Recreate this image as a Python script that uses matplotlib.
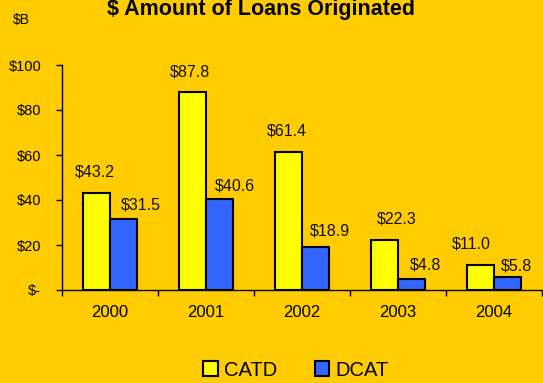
import matplotlib
matplotlib.use("Agg")
import matplotlib.pyplot as plt
from matplotlib.patches import Patch
import numpy as np

years = ["2000", "2001", "2002", "2003", "2004"]
catd = [43.2, 87.8, 61.4, 22.3, 11.0]
dcat = [31.5, 40.6, 18.9, 4.8, 5.8]
series_names = ["CATD", "DCAT"]
y_ticks = [0, 20, 40, 60, 80, 100]
y_tick_labels = ["$-", "$20", "$40", "$60", "$80", "$100"]

# hand-placed data-label offsets (pixels) relative to each bar's top centre
catd_label_offsets = [(-2, 21), (-3, 20), (-2, 21), (12, 21), (-9, 21)]
dcat_label_offsets = [(17, 14), (15, 13), (14, 16), (14, 14), (9, 11)]

BG = "#FFCC00"
YELLOW = "#FFFF00"
BLUE = "#3366FF"

plt.rcParams["font.family"] = ["Liberation Sans", "DejaVu Sans"]

fig = plt.figure(figsize=(5.43, 3.83), dpi=100, facecolor=BG)
ax = fig.add_axes([62 / 543, 1 - 290 / 383, 480 / 543, 225 / 383])
ax.set_facecolor(BG)

x = np.arange(len(years))
w = 0.28
b1 = ax.bar(x - w / 2, catd, w, color=YELLOW, edgecolor="black", linewidth=1.5, zorder=3)
b2 = ax.bar(x + w / 2, dcat, w, color=BLUE, edgecolor="black", linewidth=1.5, zorder=3)

for bars, vals, offs in ((b1, catd, catd_label_offsets), (b2, dcat, dcat_label_offsets)):
    for r, v, off in zip(bars, vals, offs):
        ax.annotate(f"${v:.1f}", (r.get_x() + r.get_width() / 2, v),
                    xytext=off, textcoords="offset pixels",
                    ha="center", va="center", fontsize=11.5, color="#111111")

ax.set_xlim(-0.5, len(years) - 0.5)
ax.set_ylim(0, 100)
ax.set_yticks(y_ticks)
ax.set_yticklabels(y_tick_labels, fontsize=10.5)
ax.tick_params(axis="y", direction="out", length=4, width=1, pad=11, colors="black")

ax.set_xticks(np.arange(-0.5, len(years)), minor=False)
ax.set_xticklabels([])
ax.set_xticks(x, minor=True)
ax.set_xticklabels(years, minor=True, fontsize=12)
ax.tick_params(axis="x", which="major", direction="out", length=4, width=1)
ax.tick_params(axis="x", which="minor", length=0, pad=11)

for s in ("top", "right"):
    ax.spines[s].set_visible(False)
for s in ("left", "bottom"):
    ax.spines[s].set_color("black")
    ax.spines[s].set_linewidth(1)

fig.text(0.48, 1 - 15 / 383, "$ Amount of Loans Originated", ha="center",
         va="baseline", fontsize=15.5, fontweight="bold")
fig.text(13 / 543, 1 - 20 / 383, "$B", ha="left", va="center", fontsize=10)

handles = [Patch(facecolor=YELLOW, edgecolor="black", linewidth=1.5),
           Patch(facecolor=BLUE, edgecolor="black", linewidth=1.5)]
fig.legend(handles, series_names, loc="center", bbox_to_anchor=(296 / 543, 1 - 370 / 383),
           ncol=2, frameon=False, fontsize=14.5, handlelength=0.7, handleheight=0.7,
           handletextpad=0.3, columnspacing=1.9)

fig.savefig("out.png", dpi=100, facecolor=BG)
